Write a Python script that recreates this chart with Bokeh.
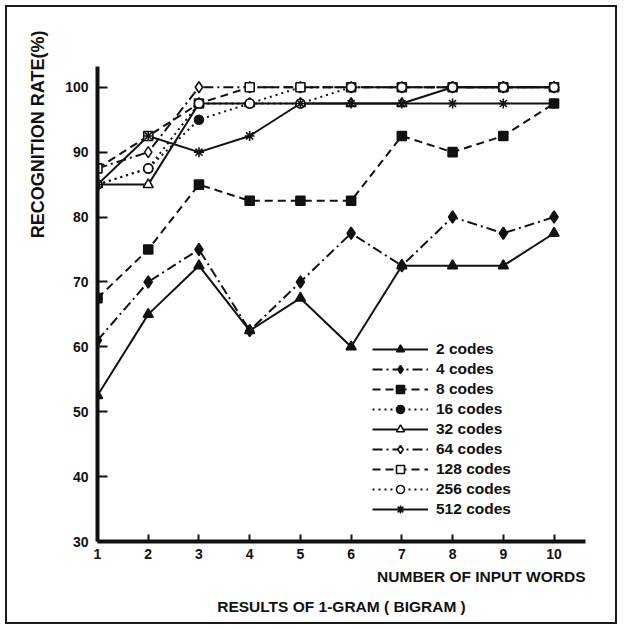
from bokeh.plotting import figure
from bokeh.models import Range1d, FixedTicker, Legend, LegendItem, Title
from bokeh.embed import file_html
from bokeh.resources import INLINE

# ---- data ----
input_words = [1, 2, 3, 4, 5, 6, 7, 8, 9, 10]
codes_2 = [52.5, 65, 72.5, 62.5, 67.5, 60, 72.5, 72.5, 72.5, 77.5]
codes_4 = [61, 70, 75, 62.5, 70, 77.5, 72.5, 80, 77.5, 80]
codes_8 = [67.5, 75, 85, 82.5, 82.5, 82.5, 92.5, 90, 92.5, 97.5]
codes_16 = [85, 87.5, 95, 97.5, 100, 100, 100, 100, 100, 100]
codes_32 = [85, 85, 97.5, 97.5, 97.5, 97.5, 97.5, 100, 100, 100]
codes_64 = [87.5, 90, 100, 100, 100, 100, 100, 100, 100, 100]
codes_128 = [87.5, 92.5, 97.5, 100, 100, 100, 100, 100, 100, 100]
codes_256 = [85, 87.5, 97.5, 97.5, 97.5, 100, 100, 100, 100, 100]
codes_512 = [85, 92.5, 90, 92.5, 97.5, 97.5, 97.5, 97.5, 97.5, 97.5]
series_labels = ["2 codes", "4 codes", "8 codes", "16 codes", "32 codes",
                 "64 codes", "128 codes", "256 codes", "512 codes"]
y_ticks = [30, 40, 50, 60, 70, 80, 90, 100]

FONT = "Liberation Sans"
INK = "#111111"

series = [codes_2, codes_4, codes_8, codes_16, codes_32,
          codes_64, codes_128, codes_256, codes_512]
styles = [
    dict(dash="solid", marker="triangle", fill=INK, size=10),
    dict(dash="10 4 2 4", marker="diamond", fill=INK, size=12),
    dict(dash="8 5", marker="square", fill=INK, size=9),
    dict(dash="2 4", marker="circle", fill=INK, size=9),
    dict(dash="solid", marker="triangle", fill="white", size=10),
    dict(dash="10 4 2 4", marker="diamond", fill="white", size=11),
    dict(dash="8 5", marker="square", fill="white", size=9),
    dict(dash="2 4", marker="circle", fill="white", size=9),
    dict(dash="solid", marker="asterisk", fill=INK, size=10),
]

p = figure(width=612, height=619,
           x_range=Range1d(1, 10.62), y_range=Range1d(30, 103.2),
           output_backend="svg", toolbar_location=None,
           min_border_left=90, min_border_right=34,
           min_border_top=59, min_border_bottom=85)
p.styles = {"border": "2px solid #1a1a1a", "margin": "5px 0 0 5px"}
p.outline_line_color = None
p.xgrid.visible = False
p.ygrid.visible = False
p.background_fill_color = "white"
p.border_fill_color = "white"

for ax in (p.xaxis[0], p.yaxis[0]):
    ax.axis_line_width = 4
    ax.axis_line_color = INK
    ax.major_tick_line_width = 2
    ax.major_tick_line_color = INK
    ax.minor_tick_line_color = None
    ax.major_tick_out = 0
    ax.major_label_text_font = FONT
    ax.major_label_text_font_style = "bold"
    ax.major_label_text_font_size = "14px"
    ax.major_label_text_color = INK

p.xaxis.ticker = FixedTicker(ticks=input_words)
p.xaxis.major_tick_in = 7
p.xaxis.major_label_standoff = 7
p.yaxis.ticker = FixedTicker(ticks=y_ticks)
p.yaxis.major_tick_in = 10
p.yaxis.major_label_standoff = 9

line_rs, mark_rs = [], []
for vals, st in zip(series, styles):
    lr = p.line(input_words, vals, line_color=INK, line_width=2, line_dash=st["dash"])
    line_rs.append(lr)
for vals, st in zip(series, styles):
    mr = p.scatter(input_words, vals, marker=st["marker"], size=st["size"],
                   fill_color=st["fill"], line_color=INK, line_width=1.6)
    mark_rs.append(mr)

items = [LegendItem(label=lab, renderers=[lr, mr])
         for lab, lr, mr in zip(series_labels, line_rs, mark_rs)]
legend = Legend(items=items, location=(275, 22),
                glyph_width=56, glyph_height=20, label_height=20,
                label_standoff=8, spacing=0, padding=0, margin=0,
                border_line_color=None, background_fill_alpha=0,
                label_text_font=FONT, label_text_font_style="bold",
                label_text_font_size="15.5px", label_text_color=INK)
p.add_layout(legend)

# y-axis title, placed toward the top of the axis
p.add_layout(Title(text="RECOGNITION RATE(%)", align="right", offset=-36,
                   standoff=29, vertical_align="bottom",
                   text_font=FONT, text_font_style="bold",
                   text_font_size="18px", text_color=INK), "left")
# x-axis title, right aligned under the axis
p.add_layout(Title(text="NUMBER OF INPUT WORDS", align="right",
                   standoff=12, vertical_align="top",
                   text_font=FONT, text_font_style="bold",
                   text_font_size="15.5px", text_color=INK), "below")
# caption
p.add_layout(Title(text="RESULTS OF 1-GRAM ( BIGRAM )", align="center",
                   standoff=10, vertical_align="top",
                   text_font=FONT, text_font_style="bold",
                   text_font_size="15.5px", text_color=INK), "below")

open("out.html", "w").write(file_html(p, INLINE))
